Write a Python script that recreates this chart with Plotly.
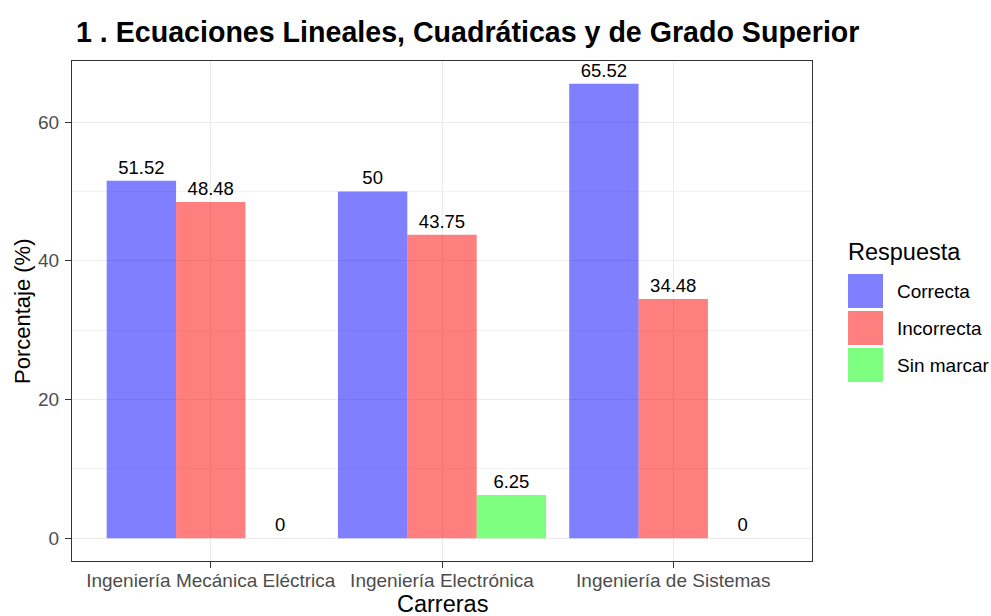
import plotly.graph_objects as go

categories = ["Ingeniería Mecánica Eléctrica", "Ingeniería Electrónica", "Ingeniería de Sistemas"]
respuestas = ["Correcta", "Incorrecta", "Sin marcar"]
correcta = [51.52, 50, 65.52]
incorrecta = [48.48, 43.75, 34.48]
sin_marcar = [0, 6.25, 0]
series = [correcta, incorrecta, sin_marcar]
colors = ["rgba(0,0,255,0.5)", "rgba(255,0,0,0.5)", "rgba(0,255,0,0.5)"]

FONT = "Arial, 'Liberation Sans', sans-serif"
W, H = 991, 616
L, R, T, B = 72, 179, 61, 55
PW, PH = W - L - R, H - T - B

fig = go.Figure()
for name, vals, col in zip(respuestas, series, colors):
    fig.add_trace(go.Bar(
        x=categories, y=vals, name=name,
        marker=dict(color=col, line=dict(width=0)),
        text=[f"{v:g}" for v in vals], textposition="outside",
        textfont=dict(size=18.5, color="black", family=FONT),
        cliponaxis=False, showlegend=False,
    ))

ymax = max(max(s) for s in series)
pad = 0.05 * ymax

def px_x(px):
    return (px - L) / PW

def px_y(py):
    return (H - B - py) / PH

annotations = [
    dict(text="Carreras", x=0.5, y=px_y(604), xref="paper", yref="paper",
         showarrow=False, xanchor="center", yanchor="middle",
         font=dict(size=23.5, color="black", family=FONT)),
    dict(text="Porcentaje (%)", x=px_x(22), y=0.5, xref="paper", yref="paper",
         showarrow=False, xanchor="center", yanchor="middle", textangle=-90,
         font=dict(size=22, color="black", family=FONT)),
    dict(text="Respuesta", x=px_x(846), y=px_y(252), xref="paper", yref="paper",
         showarrow=False, xanchor="left", yanchor="middle",
         font=dict(size=23.5, color="black", family=FONT)),
]
shapes = []
key_top = 274
key_h = 37
for i, (name, col) in enumerate(zip(respuestas, colors)):
    y0 = key_top + i * key_h
    shapes.append(dict(type="rect", xref="paper", yref="paper",
                       x0=px_x(848), x1=px_x(883), y0=px_y(y0), y1=px_y(y0 + 34),
                       fillcolor=col, line=dict(width=0), layer="above"))
    annotations.append(dict(text=name, x=px_x(895), y=px_y(y0 + 17), xref="paper", yref="paper",
                            showarrow=False, xanchor="left", yanchor="middle",
                            font=dict(size=19, color="black", family=FONT)))

fig.update_layout(
    width=W, height=H,
    margin=dict(l=L, r=R, t=T, b=B, autoexpand=False),
    paper_bgcolor="white", plot_bgcolor="white",
    barmode="group", bargap=0.1, bargroupgap=0,
    font=dict(family=FONT, color="black"),
    title=dict(text="<b>1 . Ecuaciones Lineales, Cuadráticas y de Grado Superior</b>",
               xref="container", yref="container", x=76 / W, y=1 - 32 / H,
               xanchor="left", yanchor="middle",
               font=dict(size=28.6, color="black", family=FONT)),
    xaxis=dict(type="category", range=[-0.6, 2.6],
               showgrid=True, gridcolor="#EBEBEB", gridwidth=1.2,
               showline=True, mirror=True, linecolor="#333333", linewidth=1.2,
               ticks="outside", ticklen=6, tickcolor="#333333", tickwidth=1.2,
               ticklabelstandoff=-4,
               tickfont=dict(size=19, color="#4D4D4D", family=FONT),
               zeroline=False, fixedrange=True),
    yaxis=dict(range=[-pad, ymax + pad], tickvals=[0, 20, 40, 60],
               showgrid=True, gridcolor="#EBEBEB", gridwidth=1.2,
               minor=dict(tickvals=[10, 30, 50], showgrid=True, gridcolor="#F2F2F2", gridwidth=0.8),
               showline=True, mirror=True, linecolor="#333333", linewidth=1.2,
               ticks="outside", ticklen=6, tickcolor="#333333", tickwidth=1.2,
               ticklabelstandoff=2,
               tickfont=dict(size=19, color="#4D4D4D", family=FONT),
               zeroline=False, fixedrange=True),
    annotations=annotations, shapes=shapes,
)

fig.write_html("out.html", config={"displayModeBar": False},
               post_script="document.body.style.margin='0';document.body.style.overflow='hidden';")
